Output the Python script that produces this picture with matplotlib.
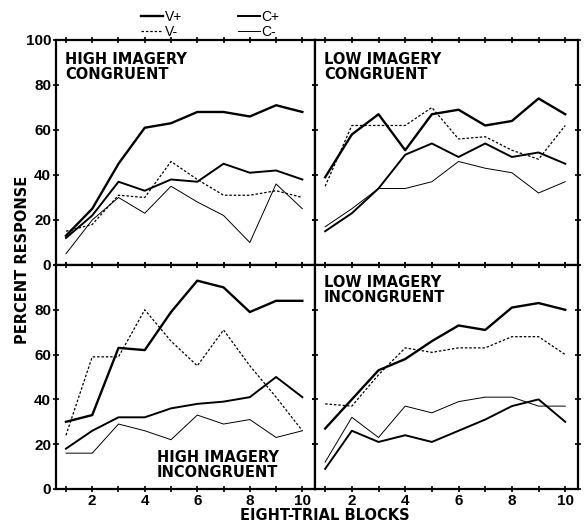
import numpy as np
import matplotlib.pyplot as plt
from matplotlib.lines import Line2D

plt.rcParams['font.family'] = ['Liberation Sans', 'DejaVu Sans']
plt.rcParams['font.weight'] = 'bold'

blocks = np.arange(1, 11)

# High imagery, congruent
hc_vplus = [13, 25, 45, 61, 63, 68, 68, 66, 71, 68]
hc_vminus = [15, 18, 31, 30, 46, 38, 31, 31, 33, 30]
hc_cplus = [12, 22, 37, 33, 38, 37, 45, 41, 42, 38]
hc_cminus = [5, 20, 30, 23, 35, 28, 22, 10, 36, 25]

# Low imagery, congruent
lc_vplus = [39, 58, 67, 51, 67, 69, 62, 64, 74, 67]
lc_vminus = [35, 62, 62, 62, 70, 56, 57, 51, 47, 62]
lc_cplus = [15, 23, 34, 49, 54, 48, 54, 48, 50, 45]
lc_cminus = [17, 25, 34, 34, 37, 46, 43, 41, 32, 37]

# High imagery, incongruent
hi_vplus = [30, 33, 63, 62, 79, 93, 90, 79, 84, 84]
hi_vminus = [24, 59, 59, 80, 66, 55, 71, 55, 41, 26]
hi_cplus = [18, 26, 32, 32, 36, 38, 39, 41, 50, 41]
hi_cminus = [16, 16, 29, 26, 22, 33, 29, 31, 23, 26]

# Low imagery, incongruent
li_vplus = [27, 40, 53, 58, 66, 73, 71, 81, 83, 80]
li_vminus = [38, 37, 51, 63, 61, 63, 63, 68, 68, 60]
li_cplus = [9, 26, 21, 24, 21, 26, 31, 37, 40, 30]
li_cminus = [12, 32, 23, 37, 34, 39, 41, 41, 37, 37]

panels = [
    ("HIGH IMAGERY\nCONGRUENT", hc_vplus, hc_vminus, hc_cplus, hc_cminus),
    ("LOW IMAGERY\nCONGRUENT", lc_vplus, lc_vminus, lc_cplus, lc_cminus),
    ("HIGH IMAGERY\nINCONGRUENT", hi_vplus, hi_vminus, hi_cplus, hi_cminus),
    ("LOW IMAGERY\nINCONGRUENT", li_vplus, li_vminus, li_cplus, li_cminus),
]

styles = {
    'V+': dict(color='black', lw=1.7, ls='-'),
    'V-': dict(color='black', lw=0.9, ls=(0, (2, 1.5))),
    'C+': dict(color='black', lw=1.4, ls='-'),
    'C-': dict(color='black', lw=0.7, ls='-'),
}

fig = plt.figure(figsize=(5.85, 5.24), dpi=100)

rects = [
    [0.0957, 0.4943, 0.4427, 0.4294],
    [0.5385, 0.4943, 0.4496, 0.4294],
    [0.0957, 0.0668, 0.4427, 0.4275],
    [0.5385, 0.0668, 0.4496, 0.4275],
]
title_pos = [(0.035, 0.945, 'top'), (0.034, 0.945, 'top'),
             (0.39, 0.04, 'bottom'), (0.034, 0.955, 'top')]

for i, (title, vp, vm, cp, cm) in enumerate(panels):
    ax = fig.add_axes(rects[i])
    ax.plot(blocks, vp, **styles['V+'])
    ax.plot(blocks, vm, **styles['V-'])
    ax.plot(blocks, cp, **styles['C+'])
    ax.plot(blocks, cm, **styles['C-'])
    ax.set_xlim(0.62, 10.48)
    ax.set_ylim(0, 100)
    ax.set_xticks(blocks)
    ax.set_yticks([0, 20, 40, 60, 80, 100])
    ax.tick_params(direction='inout', length=5, width=1.2, top=True, right=True,
                   labelsize=11, pad=1)
    for s in ax.spines.values():
        s.set_linewidth(1.6)
    if i >= 2:
        ax.set_xticklabels(['', '2', '', '4', '', '6', '', '8', '', '10'])
    else:
        ax.set_xticklabels([])
    if i == 0:
        ax.set_yticklabels(['0', '20', '40', '60', '80', '100'])
    elif i == 2:
        ax.set_yticklabels(['0', '20', '40', '60', '80', ''])
    else:
        ax.set_yticklabels([])
    tx, ty, tva = title_pos[i]
    ax.text(tx, ty, title, transform=ax.transAxes, fontsize=10.5,
            family='DejaVu Sans', fontweight='bold', va=tva, ha='left',
            linespacing=1.0)

fig.text(0.038, 0.504, "PERCENT RESPONSE", rotation=90, fontsize=10.5,
         family='DejaVu Sans', fontweight='bold', ha='center', va='center')
fig.text(0.556, 0.002, "EIGHT-TRIAL BLOCKS", fontsize=10.5,
         family='DejaVu Sans', fontweight='bold', ha='center', va='bottom')

handles = [Line2D([], [], **styles[k]) for k in ['V+', 'V-', 'C+', 'C-']]
fig.legend(handles, ['V+', 'V-', 'C+', 'C-'], loc='upper left',
           bbox_to_anchor=(0.22, 1.005), ncol=2, frameon=False,
           handlelength=1.6, handletextpad=0.1, columnspacing=4.0,
           labelspacing=0.1, prop={'weight': 'normal', 'size': 10})

fig.savefig("out.png", dpi=100)
